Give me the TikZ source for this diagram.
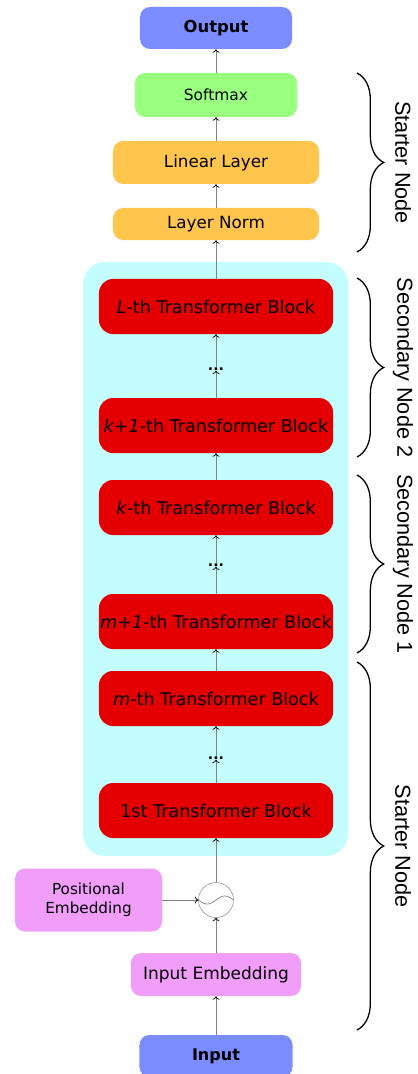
\documentclass[tikz,border=0pt]{standalone}
\usepackage{fontspec}
\setmainfont{DejaVu Sans}
\newfontfamily\bracefont{Liberation Sans}
\usetikzlibrary{arrows.meta,decorations.pathreplacing}
\definecolor{ioblue}{RGB}{122,140,255}
\definecolor{softgreen}{RGB}{153,255,127}
\definecolor{normorange}{RGB}{255,197,77}
\definecolor{bgcyan}{RGB}{196,253,253}
\definecolor{blockred}{RGB}{228,0,0}
\definecolor{embpink}{RGB}{240,158,250}
\definecolor{linkgray}{RGB}{130,130,130}
\begin{document}
\begin{tikzpicture}[x=0.03cm,y=-0.03cm]
	\tikzset{>={To[length=3pt,width=6pt,color=black]}}
	\tikzset{box/.style={rounded corners=0.3cm,align=center,inner sep=0pt},
		block/.style={box,fill=blockred,minimum width=7.02cm,minimum height=1.65cm,rounded corners=0.42cm,font=\fontsize{15}{18}\selectfont},
		link/.style={->,draw=linkgray,line width=0.6pt},
		bracebar/.style={decorate,decoration={brace,amplitude=0.8cm},line width=1.1pt},
		bracelabel/.style={rotate=-90,font=\bracefont\fontsize{18.5}{20}\selectfont}}
	\useasboundingbox (0,0) rectangle (417,1074);
	
	\fill[bgcyan,rounded corners=0.66cm] (83,262) rectangle (348,856);
	
	\node[box,fill=ioblue,minimum width=4.56cm,minimum height=1.26cm,font=\bfseries\fontsize{14}{16}\selectfont] (out) at (216,28) {Output};
	\node[box,fill=softgreen,minimum width=4.86cm,minimum height=1.32cm,font=\fontsize{13.2}{16}\selectfont] (soft) at (216,95) {Softmax};
	\node[box,fill=normorange,minimum width=6.18cm,minimum height=1.29cm,font=\fontsize{14.3}{16}\selectfont] (linear) at (216,162.5) {Linear Layer};
	\node[box,fill=normorange,minimum width=6.18cm,minimum height=0.96cm,font=\fontsize{14.3}{16}\selectfont] (lnorm) at (216,224) {Layer Norm};
	
	\node[block] (blkL) at (216,306.5) {\textit{L}-th Transformer Block};
	\node[block] (blkkk) at (216,425.5) {\textit{k+1}-th Transformer Block};
	\node[block] (blkk) at (216,507.5) {\textit{k}-th Transformer Block};
	\node[block] (blkmm) at (216,621.5) {\textit{m+1}-th Transformer Block};
	\node[block] (blkm) at (216,698.5) {\textit{m}-th Transformer Block};
	\node[block] (blk1) at (216,810.5) {1st Transformer Block};
	
	\foreach \n/\y in {dots3/369,dots2/565,dots1/758}
	\node[inner sep=0pt,font=\bfseries\fontsize{12}{12}\selectfont] (\n) at (216,\y) {...};
	
	\node[circle,draw=linkgray,fill=white,minimum size=1.05cm,inner sep=0pt] (add) at (216,900) {};
	\draw[linkgray,line width=0.6pt] plot[domain=0:360,samples=40,smooth] ({198.5+35*\x/360},{900+4*sin(\x)});
	
	\node[box,fill=embpink,minimum width=4.41cm,minimum height=1.89cm,font=\fontsize{13}{16.4}\selectfont] (pos) at (88.5,900) {Positional\\Embedding};
	\node[box,fill=embpink,minimum width=5.1cm,minimum height=1.29cm,font=\fontsize{14.5}{16}\selectfont] (inemb) at (216,974.5) {Input Embedding};
	\node[box,fill=ioblue,minimum width=4.59cm,minimum height=1.26cm,font=\bfseries\fontsize{13.7}{16}\selectfont] (inp) at (216,1056) {Input};
	
	\foreach \a/\b in {inp/inemb,inemb/add,pos/add,add/blk1,blk1/dots1,dots1/blkm,blkm/blkmm,blkmm/dots2,dots2/blkk,blkk/blkkk,blkkk/dots3,dots3/blkL,blkL/lnorm,lnorm/linear,linear/soft,soft/out}
	\draw[link] (\a) -- (\b);
	
	\draw[bracebar] (357,73) -- (357,252);
	\draw[bracebar] (357,278) -- (357,457);
	\draw[bracebar] (357,475) -- (357,653);
	\draw[bracebar] (357,662) -- (357,1030);
	
	\node[bracelabel] (lbltop) at (403,162.5) {Starter Node};
	\node[bracelabel] (lblsec2) at (403,367.5) {Secondary Node 2};
	\node[bracelabel] (lblsec1) at (403,564) {Secondary Node 1};
	\node[bracelabel] (lblbot) at (403,846) {Starter Node};
\end{tikzpicture}
\end{document}
